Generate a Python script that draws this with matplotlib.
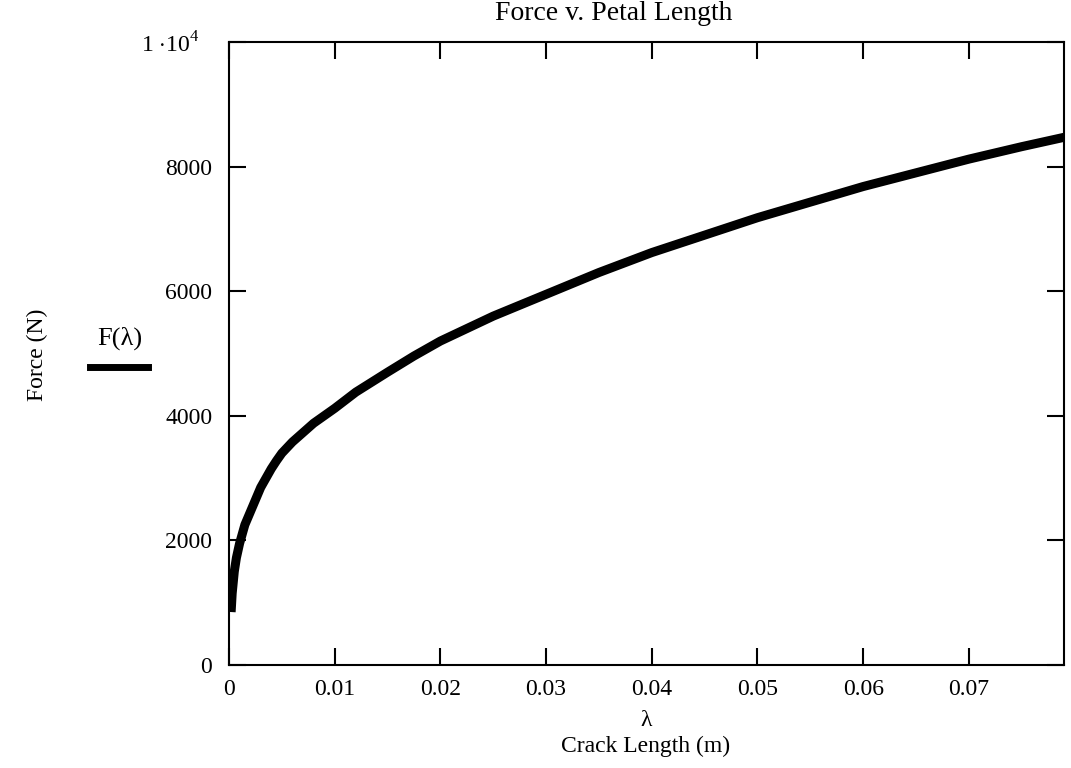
import matplotlib
matplotlib.use('Agg')
import matplotlib.pyplot as plt
from matplotlib.ticker import FuncFormatter
from matplotlib.lines import Line2D

# crack length (m) and force (N)
crack_length = [0.0002, 0.0003, 0.0005, 0.0007, 0.001, 0.0015, 0.002, 0.0025, 0.003,
                0.0035, 0.004, 0.0045, 0.005, 0.006, 0.007, 0.008, 0.009, 0.01,
                0.012, 0.015, 0.0175, 0.02, 0.025, 0.03, 0.035, 0.04, 0.045, 0.05,
                0.055, 0.06, 0.065, 0.07, 0.075, 0.079]
force = [850, 1150, 1500, 1720, 1950, 2250, 2450, 2650, 2850,
         3000, 3150, 3280, 3400, 3580, 3730, 3880, 4000, 4120,
         4380, 4700, 4960, 5200, 5600, 5950, 6300, 6620, 6900, 7180,
         7430, 7680, 7900, 8120, 8320, 8470]

x_ticks = [0, 0.01, 0.02, 0.03, 0.04, 0.05, 0.06, 0.07]
y_ticks = [0, 2000, 4000, 6000, 8000, 10000]

plt.rcParams['font.family'] = 'Liberation Serif'
plt.rcParams['mathtext.fontset'] = 'custom'
plt.rcParams['mathtext.rm'] = 'Liberation Serif'

fig = plt.figure(figsize=(10.71, 7.68), dpi=100)
ax = fig.add_axes([229 / 1071, 1 - 665 / 768, (1064 - 229) / 1071, (665 - 42) / 768])

ax.plot(crack_length, force, color='black', linewidth=6.5,
        solid_capstyle='butt', solid_joinstyle='round')

ax.set_xlim(0, 0.079)
ax.set_ylim(0, 10000)
ax.set_xticks(x_ticks)
ax.set_yticks(y_ticks)


def y_fmt(v, p):
    if v >= 10000:
        return r'1 $\cdot$10$^{4}$   '
    return f'{int(v)}'


def x_fmt(v, p):
    return '0' if v == 0 else f'{v:.2f}'


ax.yaxis.set_major_formatter(FuncFormatter(y_fmt))
ax.xaxis.set_major_formatter(FuncFormatter(x_fmt))

ax.tick_params(direction='in', length=12, width=1.5, labelsize=17,
               top=True, right=True, pad=10)
ax.tick_params(axis='y', pad=12)
for s in ax.spines.values():
    s.set_linewidth(1.5)

fig.text(614 / 1071, 1 - 14 / 768, 'Force v. Petal Length', ha='center', va='center', fontsize=20)
fig.text(37 / 1071, 1 - 355 / 768, 'Force (N)', ha='center', va='center', rotation=90, fontsize=17)
fig.text(646 / 1071, 1 - 720 / 768, 'λ', ha='center', va='center', fontsize=17)
fig.text(646 / 1071, 1 - 746 / 768, 'Crack Length (m)', ha='center', va='center', fontsize=17)

# legend-like label on the left
fig.text(120 / 1071, 1 - 338 / 768, 'F(λ)', ha='center', va='center', fontsize=19)
fig.add_artist(Line2D([90 / 1071, 148 / 1071], [1 - 367 / 768, 1 - 367 / 768],
                      color='black', linewidth=5, transform=fig.transFigure))

fig.savefig('out.png', dpi=100)
